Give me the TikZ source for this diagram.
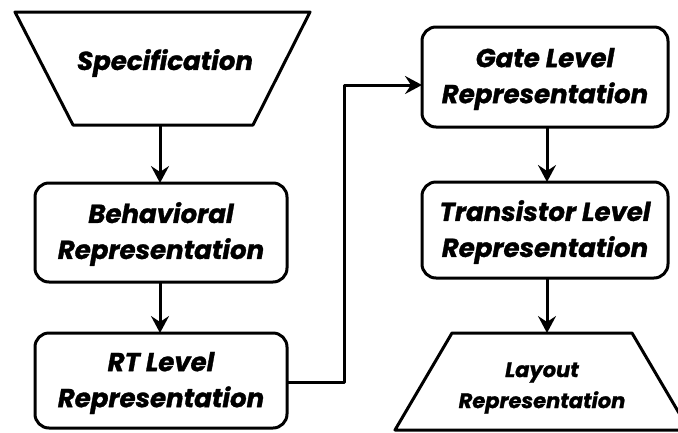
\documentclass[tikz,border=0pt]{standalone}
\usepackage{fontspec}
\setmainfont{Poppins}[BoldItalicFeatures={FakeBold=1.2}]
\usetikzlibrary{arrows.meta}
\begin{document}
\begin{tikzpicture}[x=1pt,y=-1pt,
  line width=3pt, line join=round,
  lbl/.style={font=\fontsize{26}{36}\selectfont\bfseries\itshape, align=center, inner sep=0pt},
  smalllbl/.style={font=\fontsize{21}{31}\selectfont\bfseries\itshape, align=center, inner sep=0pt},
  rbox/.style={draw, rounded corners=14pt},
  arr/.style={-{Stealth[length=17pt,width=18pt,inset=6pt]}}]
\useasboundingbox (0,0) rectangle (678,432);
\clip (0,0) rectangle (678,432);
% Specification trapezoid
\draw (15,12) -- (310,12) -- (253,125) -- (73,125) -- cycle;
\coordinate (specB) at (160,125);
\node[lbl] (spec) at (165,63) {Specification};
% Behavioral
\draw[rbox] (35,183) rectangle (287,282);
\node[lbl] (beh) at (161,234) {Behavioral\\Representation};
\coordinate (behT) at (160,183);
\coordinate (behB) at (160,282);
% RT
\draw[rbox] (35,333) rectangle (287,428);
\node[lbl] (rt) at (161,383) {RT Level\\Representation};
\coordinate (rtT) at (160,333);
\coordinate (rtR) at (287,382);
% Gate
\draw[rbox] (422,27) rectangle (668,127);
\node[lbl] (gate) at (545,79) {Gate Level\\Representation};
\coordinate (gateL) at (422,85);
\coordinate (gateB) at (547,127);
% Transistor
\draw[rbox] (422,182) rectangle (668,278);
\node[lbl] (tr) at (545,232) {Transistor Level\\Representation};
\coordinate (trT) at (547,182);
\coordinate (trB) at (547,278);
% Layout trapezoid
\draw (452,333) -- (632,333) -- (689,430) -- (395,430) -- cycle;
\coordinate (layT) at (547,333);
\node[smalllbl] (lay) at (542,388) {Layout\\Representation};
% connectors
\draw[arr] (specB) -- (behT);
\draw[arr] (behB) -- (rtT);
\draw[arr] (rtR) -- (344,382) -- (344,85) -- (gateL);
\draw[arr] (gateB) -- (trT);
\draw[arr] (trB) -- (layT);
\end{tikzpicture}
\end{document}
